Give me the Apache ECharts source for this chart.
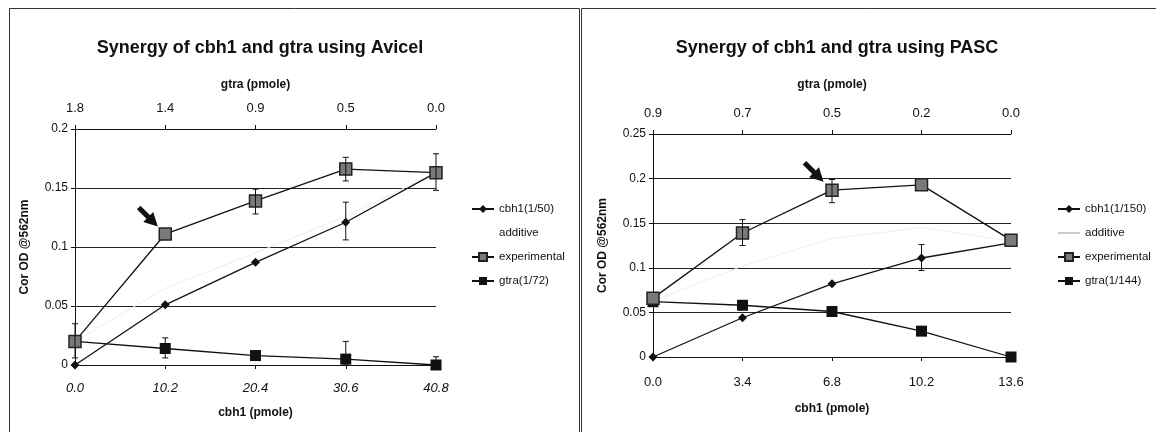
<!DOCTYPE html>
<html>
<head>
<meta charset="utf-8">
<script src="https://cdn.jsdelivr.net/npm/echarts@6/dist/echarts.min.js"></script>
<style>
  html, body { margin: 0; padding: 0; background: #fff; }
  #chart { width: 1156px; height: 432px; }
</style>
</head>
<body>
<div id="chart"></div>
<script>
// Avicel panel (left)
var avicelCbh1X = [0, 10.2, 20.4, 30.6, 40.8];
var avicelGtraTicks = ['1.8', '1.4', '0.9', '0.5', '0.0'];
var avicelCbh1 = [0, 0.051, 0.087, 0.121, 0.163];
var avicelAdditive = [0.020, 0.065, 0.095, 0.126, 0.163];
var avicelExp = [0.020, 0.111, 0.139, 0.166, 0.163];
var avicelGtra = [0.020, 0.014, 0.008, 0.005, 0.0];
var avicelExpLow = [0.006, null, 0.128, 0.156, 0.148];
var avicelExpHigh = [0.035, null, 0.149, 0.176, 0.179];
var avicelCbh1Low = [null, null, null, 0.106, null];
var avicelCbh1High = [null, null, null, 0.138, null];
var avicelGtraLow = [null, 0.006, null, 0.0, 0.0];
var avicelGtraHigh = [null, 0.023, null, 0.020, 0.007];

// PASC panel (right)
var pascCbh1X = [0, 3.4, 6.8, 10.2, 13.6];
var pascGtraTicks = ['0.9', '0.7', '0.5', '0.2', '0.0'];
var pascCbh1 = [0, 0.044, 0.082, 0.111, 0.128];
var pascAdditive = [0.063, 0.102, 0.133, 0.145, 0.130];
var pascExp = [0.066, 0.139, 0.187, 0.193, 0.131];
var pascGtra = [0.062, 0.058, 0.051, 0.029, 0.0];
var pascExpLow = [null, 0.125, 0.173, null, null];
var pascExpHigh = [null, 0.154, 0.199, null, null];
var pascCbh1Low = [null, null, null, 0.097, null];
var pascCbh1High = [null, null, null, 0.126, null];

var FONT = '"Liberation Sans", Arial, sans-serif';
var ARROW = 'path://M7,0 L14,13 L9.5,13 L9.5,26 L4.5,26 L4.5,13 L0,13 Z';

function pts(xs, ys) {
    return xs.map(function (x, i) { return [x, ys[i]]; });
}
function errPts(xs, lo, hi) {
    var out = [];
    xs.forEach(function (x, i) {
        if (lo[i] != null) out.push([x, lo[i], hi[i]]);
    });
    return out;
}
function errRender(params, api) {
    var a = api.coord([api.value(0), api.value(1)]);
    var b = api.coord([api.value(0), api.value(2)]);
    var w = 3;
    var st = { stroke: '#111', lineWidth: 1 };
    return {
        type: 'group',
        children: [
            { type: 'line', shape: { x1: a[0], y1: a[1], x2: b[0], y2: b[1] }, style: st },
            { type: 'line', shape: { x1: a[0] - w, y1: a[1], x2: a[0] + w, y2: a[1] }, style: st },
            { type: 'line', shape: { x1: b[0] - w, y1: b[1], x2: b[0] + w, y2: b[1] }, style: st }
        ]
    };
}

function lineSeries(name, data, xi, yi, kind) {
    var s = {
        name: name,
        type: 'line',
        xAxisIndex: xi,
        yAxisIndex: yi,
        data: data,
        color: '#111',
        lineStyle: { color: '#111', width: 1.3 },
        itemStyle: { color: '#111' },
        symbol: 'rect',
        symbolSize: 11,
        z: 3
    };
    if (kind === 'diamond') { s.symbol = 'diamond'; s.symbolSize = 9; }
    if (kind === 'exp') {
        s.symbolSize = 12;
        s.color = '#7a7a7a';
        s.itemStyle = { color: '#7a7a7a', borderColor: '#222', borderWidth: 1.5 };
        s.z = 5;
    }
    if (kind === 'add') {
        s.symbol = 'none';
        s.color = '#eeeeee';
        s.lineStyle = { color: '#eeeeee', width: 1 };
        s.itemStyle = { color: '#eeeeee' };
        s.z = 1;
    }
    return s;
}
function errSeries(data, xi, yi) {
    return {
        type: 'custom', xAxisIndex: xi, yAxisIndex: yi,
        renderItem: errRender, data: data, z: 6, silent: true,
        encode: { x: 0, y: [1, 2] }
    };
}

function yAxis(gi, max) {
    return {
        type: 'value', gridIndex: gi, min: 0, max: max, interval: 0.05,
        name: 'Cor OD @562nm', nameLocation: 'middle', nameGap: 44,
        nameTextStyle: { fontFamily: FONT, fontWeight: 'bold', fontSize: 12, color: '#111' },
        axisLine: { show: true, lineStyle: { color: '#111' } },
        axisTick: { show: true, length: 4, lineStyle: { color: '#111' } },
        axisLabel: {
            fontFamily: FONT, fontSize: 12, color: '#111', margin: 7,
            formatter: function (v) { return v === 0 ? '0' : String(+v.toFixed(2)); }
        },
        splitLine: { show: true, lineStyle: { color: '#222', width: 1 } }
    };
}
function xBottom(gi, max, italic) {
    return {
        type: 'value', gridIndex: gi, position: 'bottom', min: 0, max: max, interval: max / 4,
        name: 'cbh1 (pmole)', nameLocation: 'middle', nameGap: italic ? 42 : 46,
        nameTextStyle: { fontFamily: FONT, fontWeight: 'bold', fontSize: 12, color: '#111' },
        axisLine: { onZero: false, lineStyle: { color: '#111' } },
        axisTick: { length: 4, lineStyle: { color: '#111' } },
        axisLabel: {
            fontFamily: FONT, fontSize: 13, color: '#111', margin: italic ? 17 : 19,
            fontStyle: italic ? 'italic' : 'normal',
            formatter: function (v) { return v.toFixed(1); }
        },
        splitLine: { show: false }
    };
}
function xTop(gi, max, ticks, gap) {
    return {
        type: 'value', gridIndex: gi, position: 'top', min: 0, max: max, interval: max / 4,
        name: 'gtra (pmole)', nameLocation: 'middle', nameGap: gap,
        nameTextStyle: { fontFamily: FONT, fontWeight: 'bold', fontSize: 12, color: '#111' },
        axisLine: { onZero: false, lineStyle: { color: '#111' } },
        axisTick: { length: 4, lineStyle: { color: '#111' } },
        axisLabel: {
            fontFamily: FONT, fontSize: 13, color: '#111', margin: 14,
            formatter: function (v) { return ticks[Math.round(v / (max / 4))]; }
        },
        splitLine: { show: false }
    };
}
function legend(left, names, addStyle) {
    return {
        left: left, top: 198, orient: 'vertical', itemGap: 12,
        itemWidth: 22, itemHeight: 10,
        textStyle: { fontFamily: FONT, fontSize: 11.5, color: '#111' },
        data: names.map(function (n) {
            return n === 'additive' ? { name: n, itemStyle: { opacity: 0 }, lineStyle: addStyle } : n;
        }),
        selectedMode: false
    };
}

var avicelExpSeries = lineSeries('experimental', pts(avicelCbh1X, avicelExp), 0, 0, 'exp');
avicelExpSeries.markPoint = {
    silent: true, symbol: ARROW, symbolSize: [14, 27], symbolRotate: -135,
    itemStyle: { color: '#111' }, label: { show: false },
    data: [{ coord: [avicelCbh1X[1], avicelExp[1]], symbolOffset: [-17, -17] }]
};
var pascExpSeries = lineSeries('experimental', pts(pascCbh1X, pascExp), 2, 1, 'exp');
pascExpSeries.markPoint = {
    silent: true, symbol: ARROW, symbolSize: [14, 27], symbolRotate: -135,
    itemStyle: { color: '#111' }, label: { show: false },
    data: [{ coord: [pascCbh1X[2], pascExp[2]], symbolOffset: [-18, -18] }]
};

var option = {
    animation: false,
    backgroundColor: '#fff',
    title: [
        { text: 'Synergy of cbh1 and gtra using Avicel', left: 255, top: 34, textAlign: 'center',
          textStyle: { fontFamily: FONT, fontWeight: 'bold', fontSize: 18, color: '#111' } },
        { text: 'Synergy of cbh1 and gtra using PASC', left: 832, top: 34, textAlign: 'center',
          textStyle: { fontFamily: FONT, fontWeight: 'bold', fontSize: 18, color: '#111' } }
    ],
    graphic: [
        { type: 'rect', shape: { x: 9.5, y: 8.5, width: 570, height: 440 },
          style: { fill: 'none', stroke: '#333', lineWidth: 1 }, silent: true },
        { type: 'rect', shape: { x: 581.5, y: 8.5, width: 590, height: 440 },
          style: { fill: 'none', stroke: '#333', lineWidth: 1 }, silent: true }
    ],
    grid: [
        { left: 75, top: 129, width: 361, height: 236 },
        { left: 653, top: 134, width: 358, height: 223 }
    ],
    xAxis: [
        xBottom(0, 40.8, true),
        xTop(0, 40.8, avicelGtraTicks, 38),
        xBottom(1, 13.6, false),
        xTop(1, 13.6, pascGtraTicks, 43)
    ],
    yAxis: [yAxis(0, 0.2), yAxis(1, 0.25)],
    legend: [
        legend(466, ['cbh1(1/50)', 'additive', 'experimental', 'gtra(1/72)'], { opacity: 0 }),
        legend(1052, ['cbh1(1/150)', 'additive', 'experimental', 'gtra(1/144)'], { color: '#999', width: 1 })
    ],
    series: [
        lineSeries('additive', pts(avicelCbh1X, avicelAdditive), 0, 0, 'add'),
        lineSeries('gtra(1/72)', pts(avicelCbh1X, avicelGtra), 0, 0, 'rect'),
        lineSeries('cbh1(1/50)', pts(avicelCbh1X, avicelCbh1), 0, 0, 'diamond'),
        avicelExpSeries,
        errSeries(errPts(avicelCbh1X, avicelExpLow, avicelExpHigh), 0, 0),
        errSeries(errPts(avicelCbh1X, avicelCbh1Low, avicelCbh1High), 0, 0),
        errSeries(errPts(avicelCbh1X, avicelGtraLow, avicelGtraHigh), 0, 0),

        lineSeries('additive', pts(pascCbh1X, pascAdditive), 2, 1, 'add'),
        lineSeries('gtra(1/144)', pts(pascCbh1X, pascGtra), 2, 1, 'rect'),
        lineSeries('cbh1(1/150)', pts(pascCbh1X, pascCbh1), 2, 1, 'diamond'),
        pascExpSeries,
        errSeries(errPts(pascCbh1X, pascExpLow, pascExpHigh), 2, 1),
        errSeries(errPts(pascCbh1X, pascCbh1Low, pascCbh1High), 2, 1)
    ]
};

var myChart = echarts.init(document.getElementById('chart'));
myChart.setOption(option);
</script>
</body>
</html>
